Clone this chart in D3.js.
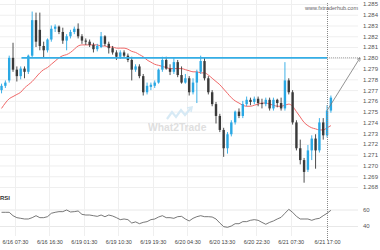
<!DOCTYPE html>
<meta charset="utf-8">
<head>
  <title>Breakout chart</title>
</head>

<style>
body {
  margin: 0;
  background: #fff;
}
svg text {
  font-family: "Liberation Sans", Arial, sans-serif;
}
</style>

<body>
  <svg id="chart" width="380" height="250"></svg>

  <script src="https://cdnjs.cloudflare.com/ajax/libs/d3/7.8.5/d3.min.js"></script>

  <script>
// hourly candles, index 0 = 6/16 04:00 (weekend skipped)
var opens = [1.2770,1.2774,1.2779,1.2800,1.2789,1.2783,1.2790,1.2787,1.2802,1.2835,
  1.2826,1.2811,1.2807,1.2817,1.2827,1.2829,1.2824,1.2816,1.2820,1.2824,
  1.2827,1.2820,1.2816,1.2815,1.2812,1.2808,1.2810,1.2820,1.2813,1.2809,
  1.2805,1.2801,1.2805,1.2802,1.2798,1.2789,1.2792,1.2783,1.2768,1.2773,
  1.2774,1.2777,1.2789,1.2798,1.2790,1.2787,1.2796,1.2784,1.2777,1.2781,
  1.2768,1.2777,1.2787,1.2797,1.2781,1.2768,1.2757,1.2746,1.2733,1.2716,
  1.2729,1.2740,1.2750,1.2746,1.2757,1.2761,1.2759,1.2762,1.2758,1.2757,
  1.2761,1.2753,1.2761,1.2758,1.2753,1.2779,1.2768,1.2740,1.2716,1.2705,
  1.2696,1.2714,1.2725,1.2714,1.2740,1.2728,1.2751];
var highs = [1.2776,1.2779,1.2802,1.2814,1.2792,1.2792,1.2792,1.2803,1.2843,1.2842,
  1.2842,1.2815,1.2818,1.2830,1.2831,1.2830,1.2828,1.2822,1.2826,1.2829,
  1.2832,1.2822,1.2818,1.2817,1.2814,1.2813,1.2824,1.2821,1.2815,1.2811,
  1.2807,1.2807,1.2807,1.2804,1.2801,1.2794,1.2794,1.2785,1.2777,1.2777,
  1.2779,1.2790,1.2801,1.2801,1.2794,1.2800,1.2798,1.2792,1.2785,1.2783,
  1.2781,1.2789,1.2802,1.2800,1.2783,1.2770,1.2759,1.2748,1.2735,1.2731,
  1.2742,1.2751,1.2753,1.2760,1.2764,1.2763,1.2764,1.2764,1.2762,1.2763,
  1.2763,1.2763,1.2762,1.2763,1.2796,1.2781,1.2770,1.2742,1.2724,1.2707,
  1.2719,1.2728,1.2729,1.2744,1.2744,1.2756,1.2765];
var lows = [1.2767,1.2772,1.2777,1.2787,1.2778,1.2780,1.2781,1.2785,1.2800,1.2810,
  1.2807,1.2800,1.2805,1.2815,1.2824,1.2822,1.2813,1.2807,1.2818,1.2822,
  1.2818,1.2813,1.2812,1.2810,1.2805,1.2806,1.2809,1.2811,1.2804,1.2803,
  1.2798,1.2799,1.2800,1.2796,1.2779,1.2787,1.2781,1.2765,1.2766,1.2770,
  1.2772,1.2776,1.2787,1.2789,1.2784,1.2785,1.2782,1.2776,1.2776,1.2765,
  1.2766,1.2758,1.2785,1.2779,1.2766,1.2755,1.2739,1.2731,1.2708,1.2711,
  1.2727,1.2738,1.2744,1.2744,1.2755,1.2756,1.2757,1.2755,1.2753,1.2755,
  1.2751,1.2751,1.2754,1.2751,1.2751,1.2766,1.2738,1.2714,1.2701,1.2684,
  1.2694,1.2705,1.2697,1.2712,1.2724,1.2726,1.2749];
var closes = [1.2774,1.2777,1.2800,1.2789,1.2783,1.2790,1.2787,1.2802,1.2835,1.2815,
  1.2811,1.2807,1.2817,1.2827,1.2829,1.2824,1.2816,1.2820,1.2824,1.2827,
  1.2820,1.2816,1.2815,1.2812,1.2808,1.2811,1.2820,1.2813,1.2809,1.2805,
  1.2801,1.2805,1.2802,1.2798,1.2789,1.2792,1.2783,1.2768,1.2774,1.2775,
  1.2777,1.2789,1.2798,1.2790,1.2787,1.2796,1.2784,1.2777,1.2781,1.2768,
  1.2777,1.2787,1.2797,1.2781,1.2768,1.2757,1.2746,1.2733,1.2716,1.2729,
  1.2740,1.2750,1.2746,1.2757,1.2761,1.2759,1.2762,1.2758,1.2757,1.2761,
  1.2753,1.2761,1.2758,1.2753,1.2779,1.2768,1.2740,1.2716,1.2705,1.2694,
  1.2714,1.2725,1.2714,1.2740,1.2728,1.2751,1.2763];

// moving average (red)
var movingAvg = [1.2753,1.2758,1.2762,1.2764,1.2766,1.2768,1.2772,1.2775,1.2778,1.2782,
  1.2786,1.2789,1.2791,1.2794,1.2797,1.2800,1.2802,1.2803,1.2805,1.2808,
  1.2811,1.2812,1.2812,1.2812,1.2812,1.2812,1.2811,1.2811,1.2810,1.2810,
  1.2809,1.2809,1.2809,1.2808,1.2806,1.2805,1.2803,1.2801,1.2798,1.2796,
  1.2794,1.2793,1.2792,1.2791,1.2790,1.2790,1.2790,1.2790,1.2789,1.2788,
  1.2787,1.2787,1.2786,1.2786,1.2784,1.2781,1.2778,1.2775,1.2771,1.2767,
  1.2763,1.2760,1.2758,1.2756,1.2755,1.2755,1.2756,1.2757,1.2758,1.2758,
  1.2757,1.2756,1.2755,1.2755,1.2756,1.2757,1.2755,1.2750,1.2745,1.2740,
  1.2737,1.2735,1.2734,1.2733,1.2733,1.2735,1.2737];

var rsiValues = [56.6,56.6,56.6,52.5,50.1,49.3,48.5,48.5,50.1,52.5,
  50.1,50.1,51.3,55.4,56.6,57.4,57.4,59.4,57.0,57.4,
  58.2,54.1,53.3,53.3,52.5,51.7,53.3,51.3,53.3,52.1,
  50.1,47.7,48.5,47.7,43.6,45.0,42.8,44.4,45.3,47.7,
  48.5,50.9,52.5,50.1,50.1,49.3,51.3,51.7,48.5,46.1,
  49.3,51.3,52.5,51.3,51.3,50.9,48.5,43.6,39.2,38.4,
  40.0,42.8,42.8,45.3,45.3,46.9,47.7,46.9,44.4,42.1,
  44.4,46.1,48.5,50.5,55.4,60.2,56.6,51.7,48.5,48.5,
  48.5,46.9,48.5,49.3,52.5,55.4,59.0];

var priceTicks = [1.268,1.269,1.270,1.271,1.272,1.273,1.274,1.275,1.276,
  1.277,1.278,1.279,1.280,1.281,1.282,1.283,1.284,1.285];
var rsiTicks = [40, 60];
var timeTicks = [3.5, 12.5, 21.5, 30.5, 39.5, 48.5, 57.5, 66.5, 75.5, 85];
var timeLabels = ['6/16 07:30','6/16 16:30','6/19 01:30','6/19 10:30','6/19 19:30',
  '6/20 04:30','6/20 13:30','6/20 22:30','6/21 07:30','6/21 17:00'];

var resistance = 1.2800;
var resistanceStart = 5.2;
var nowIndex = 85;
var targetIndex = 93.6;

var svg = d3.select('#chart');

var x = d3.scaleLinear().domain([-0.4, 93.6]).range([0, 360]);
var y = d3.scaleLinear().domain([1.268, 1.285]).range([187, 4]);
var yRsi = d3.scaleLinear().domain([40, 60]).range([226, 209.5]);

// grid
svg.append('g').selectAll('line').data(priceTicks).enter().append('line')
  .attr('x1', 0).attr('x2', 358)
  .attr('y1', d => y(d) + 0.5).attr('y2', d => y(d) + 0.5)
  .attr('stroke', '#efefef');

svg.append('g').selectAll('line').data(rsiTicks).enter().append('line')
  .attr('x1', 0).attr('x2', 358)
  .attr('y1', d => yRsi(d) + 0.5).attr('y2', d => yRsi(d) + 0.5)
  .attr('stroke', '#e8e8e8');

svg.append('g').selectAll('line').data(timeTicks.slice(0, -1)).enter().append('line')
  .attr('x1', d => Math.round(x(d)) + 0.5).attr('x2', d => Math.round(x(d)) + 0.5)
  .attr('y1', 0).attr('y2', 236)
  .attr('stroke', '#efefef');

// axis labels
var yAxis = d3.axisRight(y).tickValues(priceTicks).tickFormat(d3.format('.3f')).tickSize(0).tickPadding(0);
svg.append('g').attr('transform', 'translate(363,0)').call(yAxis)
  .call(g => g.select('.domain').remove())
  .selectAll('text').attr('font-size', 6).attr('fill', '#555')
  .attr('font-family', '"Liberation Sans", Arial, sans-serif');

var rAxis = d3.axisRight(yRsi).tickValues(rsiTicks).tickSize(0).tickPadding(0);
svg.append('g').attr('transform', 'translate(363,0)').call(rAxis)
  .call(g => g.select('.domain').remove())
  .selectAll('text').attr('font-size', 6).attr('fill', '#555')
  .attr('font-family', '"Liberation Sans", Arial, sans-serif');

var xAxis = d3.axisBottom(x).tickValues(timeTicks)
  .tickFormat((d, i) => timeLabels[i]).tickSize(0).tickPadding(0);
svg.append('g').attr('transform', 'translate(0,240)').call(xAxis)
  .call(g => g.select('.domain').remove())
  .selectAll('text').attr('font-size', 5.5).attr('fill', '#444')
  .attr('font-family', '"Liberation Sans", Arial, sans-serif');

// watermark
var logo = svg.append('g').attr('opacity', 0.9);
logo.append('polyline')
  .attr('points', '167,119 172,112 176,117 181,110 185,115 191,108')
  .attr('fill', 'none').attr('stroke', '#d3e8f5').attr('stroke-width', 2.2);
logo.append('polyline')
  .attr('points', '187,108 192,107 191,112')
  .attr('fill', 'none').attr('stroke', '#d3e8f5').attr('stroke-width', 1.6);
logo.append('text').attr('x', 148).attr('y', 131)
  .attr('font-size', 10.3).attr('font-weight', 'bold').attr('fill', '#dcdcdc')
  .text('What2Trade');

svg.append('text').attr('x', 358).attr('y', 10)
  .attr('text-anchor', 'end').attr('font-size', 5.5).attr('fill', '#666')
  .text('www.fxtraderhub.com');

// moving average
svg.append('path')
  .datum(movingAvg)
  .attr('fill', 'none')
  .attr('stroke', '#f06868')
  .attr('stroke-width', 1)
  .attr('d', d3.line().x((d, i) => x(i)).y(d => y(d)).curve(d3.curveMonotoneX));

// candles
var candles = svg.append('g').selectAll('g').data(closes).enter().append('g');
candles.append('line')
  .attr('x1', (d, i) => x(i)).attr('x2', (d, i) => x(i))
  .attr('y1', (d, i) => y(highs[i])).attr('y2', (d, i) => y(lows[i]))
  .attr('stroke', (d, i) => d >= opens[i] ? '#2aa8e4' : '#3a3a3a')
  .attr('stroke-width', 0.9);
candles.append('rect')
  .attr('x', (d, i) => x(i) - 1.2)
  .attr('width', 2.4)
  .attr('y', (d, i) => y(Math.max(d, opens[i])))
  .attr('height', (d, i) => Math.max(1, Math.abs(y(d) - y(opens[i]))))
  .attr('fill', (d, i) => d >= opens[i] ? '#2aa8e4' : '#3a3a3a');

// resistance level
svg.append('line')
  .attr('x1', x(resistanceStart)).attr('x2', x(nowIndex))
  .attr('y1', y(resistance)).attr('y2', y(resistance))
  .attr('stroke', '#35aee6').attr('stroke-width', 1.8);
svg.append('line')
  .attr('x1', x(nowIndex)).attr('x2', x(targetIndex))
  .attr('y1', y(resistance)).attr('y2', y(resistance))
  .attr('stroke', '#888').attr('stroke-width', 0.8).attr('stroke-dasharray', '1,1');

// now line
svg.append('line')
  .attr('x1', Math.round(x(nowIndex)) + 0.5).attr('x2', Math.round(x(nowIndex)) + 0.5)
  .attr('y1', 3).attr('y2', 241)
  .attr('stroke', '#888').attr('stroke-width', 1).attr('stroke-dasharray', '1,1');

// projection arrow
svg.append('defs').append('marker')
  .attr('id', 'head').attr('viewBox', '0 0 10 10')
  .attr('refX', 9).attr('refY', 5)
  .attr('markerWidth', 5).attr('markerHeight', 5)
  .attr('orient', 'auto')
  .append('path').attr('d', 'M0,0 L10,5 L0,10').attr('fill', 'none')
  .attr('stroke', '#777').attr('stroke-width', 1.5);
svg.append('line')
  .attr('x1', x(nowIndex)).attr('y1', y(closes[nowIndex]))
  .attr('x2', x(targetIndex)).attr('y2', y(resistance))
  .attr('stroke', '#777').attr('stroke-width', 0.8)
  .attr('marker-end', 'url(#head)');

// rsi
svg.append('text').attr('x', 0).attr('y', 200)
  .attr('font-size', 6).attr('font-weight', 'bold').attr('fill', '#333')
  .text('RSI');
svg.append('path')
  .datum(rsiValues)
  .attr('fill', 'none')
  .attr('stroke', '#555')
  .attr('stroke-width', 0.8)
  .attr('d', d3.line().x((d, i) => x(i)).y(d => yRsi(d)));
  </script>
</body>
</html>
